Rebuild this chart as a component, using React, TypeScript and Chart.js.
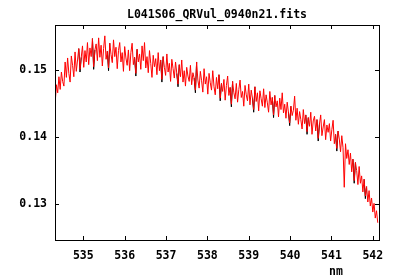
import React, { useEffect, useRef } from "react";
import { Chart, registerables } from "chart.js";

Chart.register(...registerables);

const TITLE = "L041S06_QRVul_0940n21.fits";
const X_LABEL = "nm";
const X_TICKS = [535, 536, 537, 538, 539, 540, 541, 542];
const Y_TICKS = [0.13, 0.14, 0.15];

// wavelength grid (nm)
const wave = [
  534.32, 534.35, 534.38, 534.41, 534.44, 534.47, 534.50, 534.53, 534.56, 534.59, 534.62, 534.65, 534.68, 534.71, 534.74, 534.77, 534.80, 534.83, 534.86, 534.89, 534.92, 534.95, 534.98,
  535.01, 535.04, 535.07, 535.10, 535.13, 535.16, 535.19, 535.22, 535.25, 535.28, 535.31, 535.34, 535.37, 535.40, 535.43, 535.46, 535.49, 535.52, 535.55, 535.58, 535.61, 535.64, 535.67, 535.70, 535.73, 535.76, 535.79, 535.82, 535.85, 535.88, 535.91, 535.94, 535.97,
  536.00, 536.03, 536.06, 536.09, 536.12, 536.15, 536.18, 536.21, 536.24, 536.27, 536.30, 536.33, 536.36, 536.39, 536.42, 536.45, 536.48, 536.51, 536.54, 536.57, 536.60, 536.63, 536.66, 536.69, 536.72, 536.75, 536.78, 536.81, 536.84, 536.87, 536.90, 536.93, 536.96, 536.99,
  537.02, 537.05, 537.08, 537.11, 537.14, 537.17, 537.20, 537.23, 537.26, 537.29, 537.32, 537.35, 537.38, 537.41, 537.44, 537.47, 537.50, 537.53, 537.56, 537.59, 537.62, 537.65, 537.68, 537.71, 537.74, 537.77, 537.80, 537.83, 537.86, 537.89, 537.92, 537.95, 537.98,
  538.01, 538.04, 538.07, 538.10, 538.13, 538.16, 538.19, 538.22, 538.25, 538.28, 538.31, 538.34, 538.37, 538.40, 538.43, 538.46, 538.49, 538.52, 538.55, 538.58, 538.61, 538.64, 538.67, 538.70, 538.73, 538.76, 538.79, 538.82, 538.85, 538.88, 538.91, 538.94, 538.97,
  539.00, 539.03, 539.06, 539.09, 539.12, 539.15, 539.18, 539.21, 539.24, 539.27, 539.30, 539.33, 539.36, 539.39, 539.42, 539.45, 539.48, 539.51, 539.54, 539.57, 539.60, 539.63, 539.66, 539.69, 539.72, 539.75, 539.78, 539.81, 539.84, 539.87, 539.90, 539.93, 539.96, 539.99,
  540.02, 540.05, 540.08, 540.11, 540.14, 540.17, 540.20, 540.23, 540.26, 540.29, 540.32, 540.35, 540.38, 540.41, 540.44, 540.47, 540.50, 540.53, 540.56, 540.59, 540.62, 540.65, 540.68, 540.71, 540.74, 540.77, 540.80, 540.83, 540.86, 540.89, 540.92, 540.95, 540.98,
  541.01, 541.04, 541.07, 541.10, 541.13, 541.16, 541.19, 541.22, 541.25, 541.28, 541.31, 541.34, 541.37, 541.40, 541.43, 541.46, 541.49, 541.52, 541.55, 541.58, 541.61, 541.64, 541.67, 541.70, 541.73, 541.76, 541.79, 541.82, 541.85, 541.88, 541.91, 541.94, 541.97,
  542.00, 542.03, 542.06, 542.09, 542.12,
];

// red spectrum flux
const redFlux = [
  0.1452, 0.1478, 0.1466, 0.1490, 0.1471, 0.1497, 0.1483, 0.1476,
  0.1512, 0.1489, 0.1518, 0.1495, 0.1482, 0.1521, 0.1507, 0.1490,
  0.1527, 0.1498, 0.1515, 0.1532, 0.1501, 0.1519, 0.1536, 0.1504,
  0.1529, 0.1512, 0.1541, 0.1508, 0.1533, 0.1520, 0.1547, 0.1505, 0.1530, 0.1539, 0.1514, 0.1548,
  0.1519, 0.1537, 0.1506, 0.1532, 0.1551, 0.1516, 0.1528, 0.1503, 0.1540, 0.1523, 0.1511, 0.1545, 0.1520, 0.1534, 0.1502, 0.1529,
  0.1541, 0.1512, 0.1526, 0.1498, 0.1535, 0.1518, 0.1507, 0.1530,
  0.1499, 0.1526, 0.1540, 0.1508, 0.1519, 0.1495, 0.1531, 0.1512, 0.1524, 0.1501, 0.1536, 0.1514,
  0.1541, 0.1503, 0.1520, 0.1496, 0.1529, 0.1510, 0.1489, 0.1522, 0.1505, 0.1517, 0.1493, 0.1526,
  0.1499, 0.1515, 0.1486, 0.1520, 0.1504, 0.1492, 0.1524, 0.1497, 0.1510, 0.1483, 0.1516, 0.1502,
  0.1488, 0.1512, 0.1495, 0.1479, 0.1508, 0.1490, 0.1515, 0.1482,
  0.1499, 0.1476, 0.1504, 0.1491, 0.1483, 0.1507, 0.1478, 0.1496, 0.1488, 0.1470, 0.1512, 0.1485,
  0.1473, 0.1498, 0.1484, 0.1467, 0.1502, 0.1479, 0.1490, 0.1464, 0.1495, 0.1481, 0.1470, 0.1499, 0.1475,
  0.1463, 0.1489, 0.1472, 0.1493, 0.1458, 0.1480, 0.1468, 0.1486, 0.1455, 0.1477, 0.1491, 0.1462,
  0.1474, 0.1449, 0.1483, 0.1466, 0.1457, 0.1480, 0.1452, 0.1471, 0.1485, 0.1459, 0.1468, 0.1446, 0.1477, 0.1463, 0.1454, 0.1479,
  0.1448, 0.1470, 0.1458, 0.1441, 0.1475, 0.1453, 0.1466, 0.1439, 0.1469, 0.1457, 0.1446, 0.1472,
  0.1444, 0.1463, 0.1451, 0.1437, 0.1468, 0.1448, 0.1459, 0.1433, 0.1462, 0.1445, 0.1454, 0.1430, 0.1458, 0.1441, 0.1466, 0.1436,
  0.1449, 0.1428, 0.1452, 0.1437, 0.1421, 0.1446, 0.1432, 0.1440, 0.1461, 0.1425, 0.1443, 0.1419,
  0.1438, 0.1426, 0.1412, 0.1441, 0.1420, 0.1433, 0.1408, 0.1429, 0.1416, 0.1437, 0.1404, 0.1424,
  0.1431, 0.1409, 0.1426, 0.1398, 0.1419, 0.1433, 0.1402, 0.1415, 0.1426, 0.1396, 0.1418, 0.1407,
  0.1420, 0.1394, 0.1411, 0.1425, 0.1390, 0.1404, 0.1383, 0.1409,
  0.1397, 0.1378, 0.1402, 0.1384, 0.1325, 0.1390, 0.1368, 0.1381,
  0.1359, 0.1376, 0.1348, 0.1367, 0.1335, 0.1362, 0.1350, 0.1329,
  0.1356, 0.1331, 0.1342, 0.1318, 0.1337, 0.1312, 0.1326, 0.1303,
  0.1320, 0.1297, 0.1309, 0.1288, 0.1301, 0.1279, 0.1290, 0.1272,
];

// black spectrum: only its slightly deeper dips show from under the red one (null = gap)
const blackWave = [
  534.89, 534.92, 534.95, 534.95,
  535.22, 535.25, 535.28, 535.28,
  535.58, 535.61, 535.64, 535.64,
  536.24, 536.27, 536.30, 536.30,
  536.87, 536.90, 536.93, 536.93,
  537.26, 537.29, 537.32, 537.32,
  537.68, 537.71, 537.74, 537.74,
  538.28, 538.31, 538.34, 538.34,
  538.55, 538.58, 538.61, 538.61,
  539.09, 539.12, 539.15, 539.15,
  539.57, 539.60, 539.63, 539.63,
  539.96, 539.99, 540.02, 540.02,
  540.38, 540.41, 540.44, 540.44,
  540.65, 540.68, 540.71, 540.71,
  541.10, 541.13, 541.16, 541.16,
  541.52, 541.55, 541.58, 541.58,
  541.79, 541.82, 541.85,
];
const blackFlux = [
  0.1532, 0.1497, 0.1519, null,
  0.1547, 0.1501, 0.1530, null,
  0.1528, 0.1499, 0.1540, null,
  0.1519, 0.1491, 0.1531, null,
  0.1515, 0.1482, 0.1520, null,
  0.1495, 0.1475, 0.1508, null,
  0.1488, 0.1466, 0.1512, null,
  0.1493, 0.1454, 0.1480, null,
  0.1474, 0.1445, 0.1483, null,
  0.1458, 0.1437, 0.1475, null,
  0.1459, 0.1429, 0.1462, null,
  0.1437, 0.1417, 0.1446, null,
  0.1433, 0.1404, 0.1429, null,
  0.1426, 0.1394, 0.1419, null,
  0.1404, 0.1379, 0.1409, null,
  0.1367, 0.1331, 0.1362, null,
  0.1337, 0.1308, 0.1326,
];

const FONT = "'DejaVu Sans Mono', monospace";

const framePlugin = {
  id: "frame",
  afterDraw(chart: any) {
    const { ctx, chartArea: a, scales } = chart;
    ctx.save();
    ctx.strokeStyle = "#000";
    ctx.lineWidth = 1;
    ctx.strokeRect(Math.round(a.left) + 0.5, Math.round(a.top) + 0.5, Math.round(a.right - a.left), Math.round(a.bottom - a.top));
    const L = 4;
    ctx.beginPath();
    for (const v of X_TICKS) {
      const px = Math.round(scales.x.getPixelForValue(v)) + 0.5;
      ctx.moveTo(px, a.bottom);
      ctx.lineTo(px, a.bottom - L);
      ctx.moveTo(px, a.top);
      ctx.lineTo(px, a.top + L);
    }
    for (const v of Y_TICKS) {
      const py = Math.round(scales.y.getPixelForValue(v)) + 0.5;
      ctx.moveTo(a.left, py);
      ctx.lineTo(a.left + L, py);
      ctx.moveTo(a.right, py);
      ctx.lineTo(a.right - L, py);
    }
    ctx.stroke();
    ctx.fillStyle = "#000";
    ctx.font = `bold 11.5px ${FONT}`;
    ctx.textAlign = "center";
    ctx.textBaseline = "middle";
    ctx.fillText(TITLE, 217, 15);
    ctx.fillText(X_LABEL, 336, 272);
    ctx.restore();
  },
};

export default function App() {
  const ref = useRef<HTMLCanvasElement | null>(null);
  useEffect(() => {
    document.body.style.margin = "0";
    const chart = new Chart(ref.current as HTMLCanvasElement, {
      type: "line",
      data: {
        datasets: [
          {
            data: wave.map((x, i) => ({ x, y: redFlux[i] })),
            borderColor: "#ff0000",
            borderWidth: 1,
            pointRadius: 0,
            tension: 0,
            order: 0,
          },
          {
            data: blackWave.map((x, i) => ({ x, y: blackFlux[i] })),
            borderColor: "#000000",
            borderWidth: 1,
            pointRadius: 0,
            tension: 0,
            spanGaps: false,
            order: 1,
          },
        ],
      },
      options: {
        animation: false,
        responsive: false,
        devicePixelRatio: 1,
        layout: { padding: { top: 25, right: 21, left: 0, bottom: 0 } },
        plugins: { legend: { display: false }, tooltip: { enabled: false }, title: { display: false } },
        scales: {
          x: {
            type: "linear",
            min: 534.315,
            max: 542.15,
            grid: { display: false, drawTicks: false },
            border: { display: false },
            ticks: {
              stepSize: 1,
              includeBounds: false,
              autoSkip: false,
              maxRotation: 0,
              padding: 9,
              color: "#000",
              font: { family: FONT, size: 11.5, weight: "bold" },
              callback: (v: any) => String(v),
            },
            afterFit: (s: any) => {
              s.height = 40;
            },
          },
          y: {
            type: "linear",
            min: 0.12463,
            max: 0.15672,
            grid: { display: false, drawTicks: false },
            border: { display: false },
            ticks: {
              stepSize: 0.01,
              includeBounds: false,
              padding: 8,
              color: "#000",
              font: { family: FONT, size: 11.5, weight: "bold" },
              callback: (v: any) => Number(v).toFixed(2),
            },
            afterFit: (s: any) => {
              s.width = 55;
            },
          },
        },
      },
      plugins: [framePlugin],
    } as any);
    return () => chart.destroy();
  }, []);
  return (
    <div style={{ position: "absolute", left: 0, top: 0, width: 400, height: 280, background: "#fff" }}>
      <canvas ref={ref} width={400} height={280} />
    </div>
  );
}
